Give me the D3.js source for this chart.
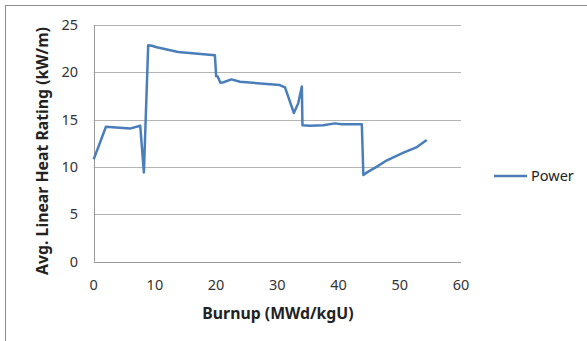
<!DOCTYPE html>
<html>
<head>
<meta charset="utf-8">
<script src="https://cdn.jsdelivr.net/npm/d3@7"></script>
<style>
body { margin: 0; background: #fff; }
text { font-family: "Noto Sans", "Open Sans", sans-serif; fill: #222; }
.axis_title { font-weight: bold; font-size: 15.8px; }
.tick_label { font-size: 14.5px; fill: #333; }
</style>
</head>
<body>
<div id="chart"></div>
<script>
// burnup (MWd/kgU) and power (kW/m)
var burnup = [0, 2.0, 5.9, 7.6, 8.2, 8.9, 9.5, 10.3, 13.8, 19.8, 20.0, 20.25, 20.7, 21.2, 22.5, 23.9,
	30.4, 31.25, 32.7, 33.4, 34.0, 34.1, 35.3, 37.5, 39.4, 40.5, 43.8, 44.05, 44.85, 46.2, 47.9, 50.6, 52.8, 54.4];
var power = [10.8, 14.25, 14.05, 14.35, 9.4, 22.85, 22.8, 22.65, 22.15, 21.8, 19.6, 19.55, 18.9, 18.95, 19.25, 19.0,
	18.65, 18.4, 15.7, 16.7, 18.5, 14.4, 14.35, 14.4, 14.6, 14.5, 14.5, 9.15, 9.5, 10.0, 10.7, 11.5, 12.1, 12.85];
var xTicks = [0, 10, 20, 30, 40, 50, 60];
var yTicks = [0, 5, 10, 15, 20, 25];
var seriesName = "Power";

var opts = {
	width: 587,
	height: 341,
	left: 93.7,
	right: 461,
	top: 25,
	bottom: 261.5
};

var svg = d3.select("#chart").append("svg")
	.attr("width", opts.width)
	.attr("height", opts.height);

// outer frame
svg.append("rect")
	.attr("x", 5.5).attr("y", 5.5)
	.attr("width", 600).attr("height", 400)
	.attr("fill", "none")
	.attr("stroke", "#8c8c8c");

var x = d3.scaleLinear().domain([0, 60]).range([opts.left, opts.right]);
var y = d3.scaleLinear().domain([0, 25]).range([opts.bottom, opts.top]);

// gridlines
svg.selectAll(".grid").data(yTicks).enter().append("line")
	.attr("x1", x(0)).attr("x2", x(60))
	.attr("y1", function(d) { return Math.round(y(d)) + 0.5; })
	.attr("y2", function(d) { return Math.round(y(d)) + 0.5; })
	.attr("stroke", function(d) { return d === 0 ? "#999" : "#b4b4b4"; })
	.attr("stroke-width", 1);

// y axis line
svg.append("line")
	.attr("x1", Math.round(x(0)) + 0.5).attr("x2", Math.round(x(0)) + 0.5)
	.attr("y1", y(25)).attr("y2", y(0))
	.attr("stroke", "#999");

svg.selectAll(".ylab").data(yTicks).enter().append("text")
	.attr("class", "tick_label")
	.attr("x", 78)
	.attr("y", function(d) { return y(d); })
	.attr("dy", "0.35em")
	.style("text-anchor", "end")
	.text(function(d) { return d; });

svg.selectAll(".xlab").data(xTicks).enter().append("text")
	.attr("class", "tick_label")
	.attr("x", function(d) { return x(d); })
	.attr("y", 285)
	.attr("dy", "0.35em")
	.style("text-anchor", "middle")
	.text(function(d) { return d; });

var line = d3.line()
	.x(function(d, i) { return x(burnup[i]); })
	.y(function(d) { return y(d); });

svg.append("path")
	.datum(power)
	.attr("d", line)
	.attr("fill", "none")
	.attr("stroke", "#4a7ebb")
	.attr("stroke-width", 2.5)
	.attr("stroke-linejoin", "round");

// axis titles
svg.append("text")
	.attr("class", "axis_title")
	.attr("x", 278)
	.attr("y", 313)
	.attr("dy", "0.35em")
	.style("text-anchor", "middle")
	.text("Burnup (MWd/kgU)");

svg.append("text")
	.attr("class", "axis_title")
	.attr("transform", "translate(42,151) rotate(-90)")
	.attr("dy", "0.35em")
	.style("text-anchor", "middle")
	.text("Avg. Linear Heat Rating (kW/m)");

// legend
svg.append("line")
	.attr("x1", 494).attr("x2", 527)
	.attr("y1", 176).attr("y2", 176)
	.attr("stroke", "#4a7ebb")
	.attr("stroke-width", 2.5);

svg.append("text")
	.attr("class", "tick_label")
	.attr("x", 531)
	.attr("y", 176)
	.attr("dy", "0.35em")
	.style("fill", "#222")
	.text(seriesName);
</script>
</body>
</html>
